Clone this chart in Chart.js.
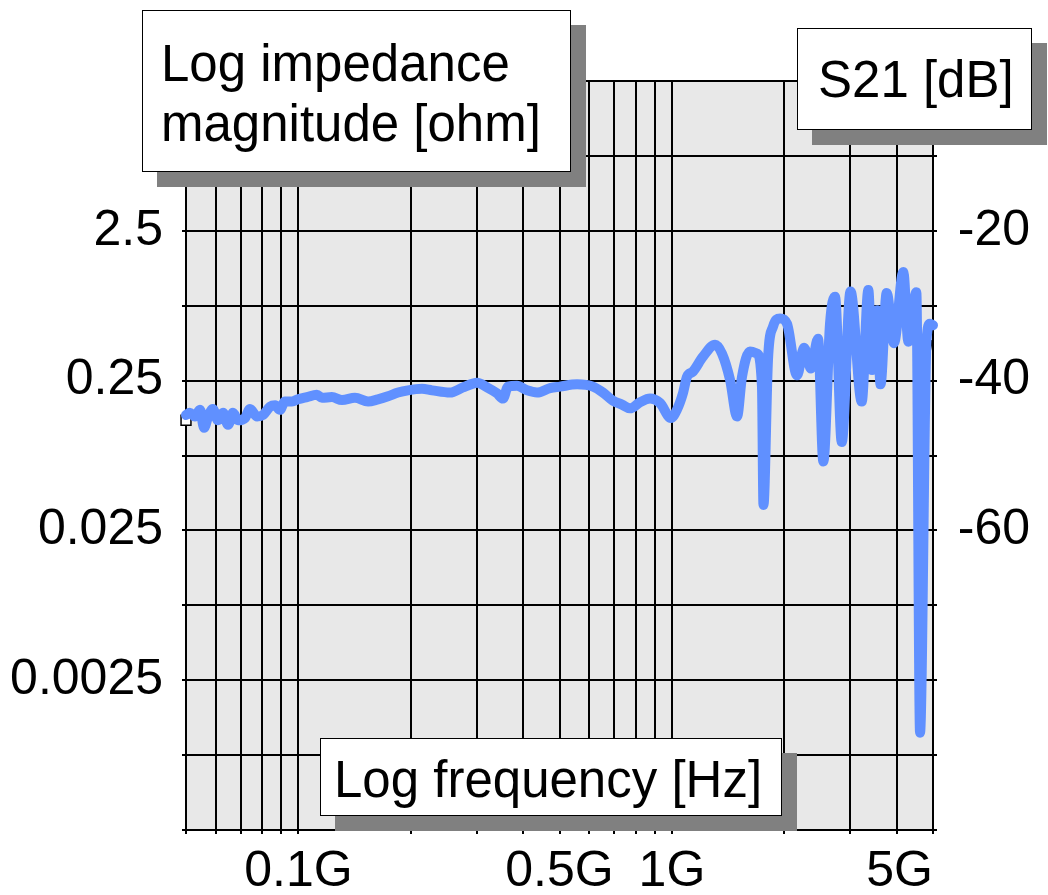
<!DOCTYPE html>
<html>
<head>
<meta charset="utf-8">
<script src="https://cdn.jsdelivr.net/npm/chart.js@4.4.1/dist/chart.umd.min.js"></script>
<style>
  body { margin: 0; background: #fff; }
  #wrap { position: relative; width: 1048px; height: 895px; overflow: hidden; }
  .box {
    position: absolute; box-sizing: border-box; background: #fff;
    border: 1.5px solid #000; box-shadow: 15px 15px 0 #808080;
    font: 51px 'Liberation Sans', Arial, sans-serif; color: #000;
    line-height: 60px; white-space: nowrap;
  }
</style>
</head>
<body>
<div id="wrap">
  <canvas id="s21Chart" width="1048" height="895"></canvas>
  <div class="box" style="left:142px;top:10px;width:429px;height:162px;padding:23px 0 0 18px;">Log impedance<br>magnitude [ohm]</div>
  <div class="box" style="left:797px;top:28px;width:235px;height:102px;padding:21px 0 0 20px;">S21 [dB]</div>
  <div class="box" style="left:320px;top:738px;width:462px;height:78px;padding:11px 0 0 13px;">Log frequency [Hz]</div>
</div>
<script>
const freqGHz = [0.05, 0.0512, 0.0528, 0.0545, 0.0559, 0.0573, 0.059, 0.0609, 0.0628, 0.0648,
  0.0668, 0.0689, 0.0719, 0.0742, 0.0775, 0.0804, 0.0839, 0.0866, 0.0892, 0.092,
  0.0961, 0.0997, 0.1054, 0.112, 0.1156, 0.1229, 0.1308, 0.1417, 0.1536, 0.1633,
  0.1737, 0.1848, 0.1965, 0.2142, 0.2278, 0.2546, 0.2757, 0.2933, 0.3007, 0.3198,
  0.3401, 0.3529, 0.364, 0.3847, 0.4093, 0.4354, 0.4716, 0.5015, 0.557, 0.6146,
  0.654, 0.6955, 0.735, 0.7724, 0.8214, 0.8737, 0.929, 0.994, 1.031, 1.07,
  1.097, 1.138, 1.211, 1.305, 1.362, 1.431, 1.494, 1.54, 1.618, 1.69,
  1.742, 1.758, 1.808, 1.865, 1.947, 2.033, 2.162, 2.258, 2.357, 2.461,
  2.543, 2.65, 2.733, 2.849, 3.007, 3.222, 3.356, 3.434, 3.541, 3.618,
  3.758, 3.931, 4.164, 4.295, 4.512, 4.616, 4.805, 4.909, 5.0];
const s21dB = [-44.6, -44.3, -44.8, -43.9, -46.3, -44.8, -43.8, -45.3, -44.3, -45.9,
  -44.3, -45.3, -45.0, -43.8, -44.8, -44.6, -43.5, -43.3, -43.9, -42.8,
  -42.8, -42.5, -42.2, -41.9, -42.3, -42.2, -42.6, -42.3, -42.8, -42.5,
  -42.1, -41.6, -41.3, -41.1, -41.3, -41.6, -40.9, -40.4, -40.3, -40.9,
  -41.7, -42.4, -40.8, -40.7, -41.3, -41.6, -41.0, -40.8, -40.5, -40.8,
  -41.6, -42.7, -43.2, -43.7, -42.9, -42.4, -43.0, -45.0, -43.9, -41.7,
  -39.5, -38.8, -36.8, -35.2, -36.4, -39.9, -44.8, -39.5, -36.1, -36.4,
  -40.8, -56.6, -37.2, -32.8, -31.7, -32.4, -39.3, -35.6, -38.4, -34.4,
  -50.8, -32.4, -28.8, -48.2, -28.1, -42.8, -27.9, -38.6, -30.6, -40.5,
  -28.3, -35.0, -25.5, -34.8, -28.2, -87.0, -34.6, -32.4, -32.6];

// the thin black trace peeking out at the right end, and the start marker
const blackGHz = [4.82, 4.97];
const blackDB = [-38.0, -34.6];
const markerGHz = [0.05];
const markerDB = [-45.3];

// axis labels
const freqTicks = [0.1, 0.5, 1, 5];
const freqTickLabels = ['0.1G', '0.5G', '1G', '5G'];
const impedanceTicks = [0.0025, 0.025, 0.25, 2.5];
const s21Ticks = [-60, -40, -20];

const FONT = { family: "'Liberation Sans', Arial, sans-serif", size: 50 };

// grid positions: 1..9 per decade between 0.05G and 5G
const freqGrid = [];
[0.01, 0.1, 1].forEach(d => {
  for (let m = 1; m <= 9; m++) {
    const v = +(m * d).toPrecision(6);
    if (v >= 0.05 && v <= 5) freqGrid.push(v);
  }
});

const near = (a, b) => Math.abs(a - b) <= Math.abs(b) * 1e-6;

const plotBg = {
  id: 'plotBg',
  beforeDraw(chart) {
    const { ctx, chartArea: a } = chart;
    ctx.save();
    ctx.fillStyle = '#e8e8e8';
    ctx.fillRect(a.left, a.top, a.right - a.left, a.bottom - a.top);
    ctx.restore();
  }
};

const toPts = (xs, ys) => xs.map((x, i) => ({ x: x, y: ys[i] }));

new Chart(document.getElementById('s21Chart').getContext('2d'), {
  type: 'line',
  data: {
    datasets: [{
      label: 'S21',
      data: toPts(freqGHz, s21dB),
      yAxisID: 'y',
      borderColor: '#6090ff',
      borderWidth: 10,
      pointRadius: 0,
      cubicInterpolationMode: 'monotone',
      borderCapStyle: 'round',
      borderJoinStyle: 'round',
      clip: 10
    }, {
      label: 'ref',
      data: toPts(blackGHz, blackDB),
      yAxisID: 'y',
      borderColor: '#000',
      borderWidth: 2,
      pointRadius: 0,
      clip: 10
    }, {
      label: 'start',
      data: toPts(markerGHz, markerDB),
      yAxisID: 'y',
      showLine: false,
      pointStyle: 'rect',
      pointRadius: 7,
      pointBorderWidth: 1.5,
      pointBorderColor: '#000',
      pointBackgroundColor: '#fff',
      clip: 10
    }]
  },
  options: {
    responsive: false,
    animation: false,
    devicePixelRatio: 1,
    layout: { padding: { top: 81, right: 18, bottom: 0, left: 0 } },
    plugins: { legend: { display: false }, tooltip: { enabled: false } },
    scales: {
      x: {
        type: 'logarithmic',
        position: 'bottom',
        min: 0.05,
        max: 5,
        afterBuildTicks: s => { s.ticks = freqGrid.map(v => ({ value: v })); },
        afterFit: s => { s.height = 65; },
        grid: { color: '#000', lineWidth: 2, tickLength: 4 },
        border: { color: '#000', width: 2 },
        ticks: {
          autoSkip: false, maxRotation: 0, align: 'inner', padding: 8,
          color: '#000', font: FONT,
          callback: v => {
            const i = freqTicks.findIndex(t => near(v, t));
            return i >= 0 ? freqTickLabels[i] : '';
          }
        }
      },
      yImp: {
        type: 'logarithmic',
        position: 'left',
        min: 0.00025,
        max: 25,
        afterBuildTicks: s => {
          const t = [];
          for (let k = 0; k <= 10; k++) t.push({ value: 0.00025 * Math.pow(10, k / 2) });
          s.ticks = t;
        },
        afterFit: s => { s.width = 186; },
        grid: { drawOnChartArea: false, color: '#000', lineWidth: 2, tickLength: 4 },
        border: { color: '#000', width: 2 },
        ticks: {
          autoSkip: false, padding: 19, color: '#000', font: FONT,
          callback: v => {
            const t = impedanceTicks.find(t => near(v, t));
            return t !== undefined ? String(t) : '';
          }
        }
      },
      y: {
        type: 'linear',
        position: 'right',
        min: -100,
        max: 0,
        afterFit: s => { s.width = 97; },
        grid: { color: '#000', lineWidth: 2, tickLength: 4 },
        border: { color: '#000', width: 2 },
        ticks: {
          stepSize: 10, autoSkip: false, crossAlign: 'far', padding: 20,
          color: '#000', font: FONT,
          callback: v => (s21Ticks.includes(v) ? String(v) : '')
        }
      }
    }
  },
  plugins: [plotBg]
});
</script>
</body>
</html>
